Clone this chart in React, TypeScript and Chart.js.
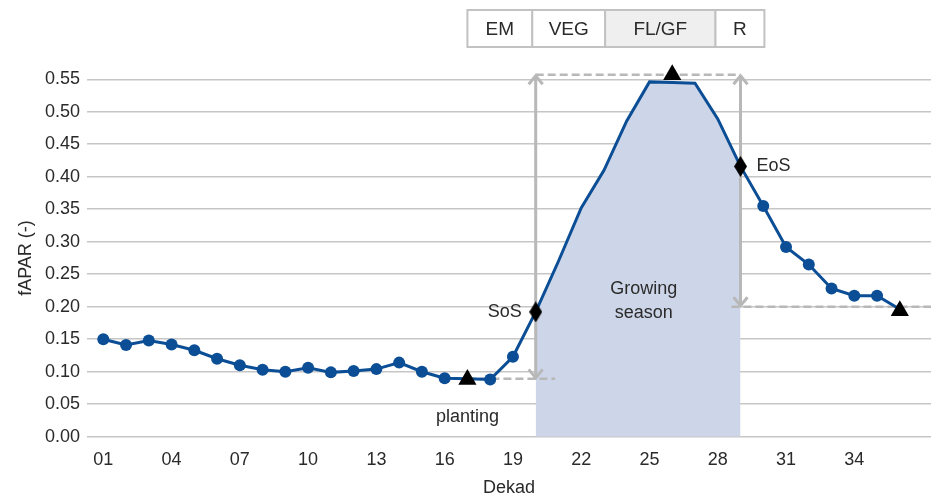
import React, { useEffect, useRef } from 'react';
import { Chart, registerables } from 'chart.js';

Chart.register(...registerables);

// ---- data ----
const dekads = [1, 2, 3, 4, 5, 6, 7, 8, 9, 10, 11, 12, 13, 14, 15, 16, 17, 18, 19, 20, 21, 22, 23, 24, 25, 26, 27, 28, 29, 30, 31, 32, 33, 34, 35, 36];
const faparValues = [
  0.150, 0.141, 0.148, 0.142, 0.133, 0.120, 0.110, 0.103, 0.100, 0.106,
  0.099, 0.101, 0.104, 0.114, 0.100, 0.090, 0.089, 0.088, 0.123, 0.192,
  0.270, 0.352, 0.410, 0.486, 0.546, 0.545, 0.544, 0.489, 0.416, 0.355,
  0.292, 0.265, 0.228, 0.217, 0.217, 0.196,
];
const xTickValues = [1, 4, 7, 10, 13, 16, 19, 22, 25, 28, 31, 34];
const xTickLabels = ['01', '04', '07', '10', '13', '16', '19', '22', '25', '28', '31', '34'];
const yTickValues = [0, 0.05, 0.1, 0.15, 0.2, 0.25, 0.3, 0.35, 0.4, 0.45, 0.5, 0.55];

const triangleDekads = [17, 26, 36];
const triangleValues = [0.088, 0.557, 0.194];
const diamondDekads = [20, 29];
const diamondValues = [0.192, 0.416];
const diamondLabels = ['SoS', 'EoS'];

const seasonStart = 20;
const seasonEnd = 29;
const plantingDekad = 17;
const plantingLevel = 0.089;
const peakLevel = 0.557;
const eosLevel = 0.2;
const plantingDashEnd = 20.85;
const eosDashStart = 28.6;

const stageLabels = ['EM', 'VEG', 'FL/GF', 'R'];
const stageEdges = [17, 19.85, 23.05, 27.9, 30.05];
const shadedStage = 'FL/GF';

const xMin = 0.284;
const xMax = 37.37;

// ---- styles ----
const FONT = '"Liberation Sans", Arial, Helvetica, sans-serif';
const TEXT = '#2a2a2a';
const BLUE = '#0b4e95';
const FILL = '#cdd6e8';
const GREY = '#b8b8b8';

function makeDiamond(): HTMLCanvasElement {
  const c = document.createElement('canvas');
  c.width = 13;
  c.height = 21;
  const g = c.getContext('2d')!;
  g.fillStyle = '#000';
  g.beginPath();
  g.moveTo(6.5, 0);
  g.lineTo(13, 10.5);
  g.lineTo(6.5, 21);
  g.lineTo(0, 10.5);
  g.closePath();
  g.fill();
  return c;
}

const overlayPlugin = {
  id: 'overlay',
  beforeDatasetDraw(chart: any, args: any) {
    if (args.index !== 1) return;
    const { ctx, chartArea } = chart;
    const xs = chart.scales.x;
    const ys = chart.scales.y;
    const X = (v: number) => xs.getPixelForValue(v);
    const Y = (v: number) => ys.getPixelForValue(v);
    ctx.save();
    ctx.strokeStyle = GREY;
    ctx.lineWidth = 2.5;
    ctx.setLineDash([8, 4]);
    const seg = (x0: number, y0: number, x1: number, y1: number) => {
      ctx.beginPath();
      ctx.moveTo(x0, y0);
      ctx.lineTo(x1, y1);
      ctx.stroke();
    };
    seg(X(plantingDekad), Y(plantingLevel), X(plantingDashEnd), Y(plantingLevel));
    seg(X(seasonStart), Y(peakLevel), X(seasonEnd), Y(peakLevel));
    seg(X(eosDashStart), Y(eosLevel), chartArea.right, Y(eosLevel));
    ctx.setLineDash([]);
    ctx.lineWidth = 3;
    const arrow = (x: number, yTop: number, yBot: number) => {
      const hw = 7;
      const hh = 9.5;
      seg(x, yTop + 1, x, yBot - 1);
      ctx.beginPath();
      ctx.moveTo(x - hw, yTop + hh);
      ctx.lineTo(x, yTop + 1);
      ctx.lineTo(x + hw, yTop + hh);
      ctx.stroke();
      ctx.beginPath();
      ctx.moveTo(x - hw, yBot - hh);
      ctx.lineTo(x, yBot - 1);
      ctx.lineTo(x + hw, yBot - hh);
      ctx.stroke();
    };
    arrow(X(seasonStart), Y(peakLevel), Y(plantingLevel));
    arrow(X(seasonEnd), Y(peakLevel), Y(eosLevel));
    ctx.restore();
  },
  afterDatasetsDraw(chart: any) {
    const { ctx } = chart;
    const xs = chart.scales.x;
    const ys = chart.scales.y;
    const X = (v: number) => xs.getPixelForValue(v);
    const Y = (v: number) => ys.getPixelForValue(v);
    ctx.save();
    ctx.font = `18px ${FONT}`;
    ctx.fillStyle = TEXT;
    ctx.textBaseline = 'middle';
    ctx.textAlign = 'center';
    ctx.fillText('planting', X(plantingDekad), Y(triangleValues[0]) + 38);
    ctx.fillText('Growing', X((seasonStart + seasonEnd) / 2 + 0.25), Y(0.227));
    ctx.fillText('season', X((seasonStart + seasonEnd) / 2 + 0.25), Y(0.227) + 24);
    ctx.textAlign = 'right';
    ctx.fillText(diamondLabels[0], X(diamondDekads[0]) - 14, Y(diamondValues[0]));
    ctx.textAlign = 'left';
    ctx.fillText(diamondLabels[1], X(diamondDekads[1]) + 16, Y(diamondValues[1]));
    ctx.restore();
  },
  afterDraw(chart: any) {
    const { ctx } = chart;
    const xs = chart.scales.x;
    const X = (v: number) => xs.getPixelForValue(v);
    const top = 10;
    const h = 37;
    ctx.save();
    ctx.lineWidth = 2;
    ctx.strokeStyle = '#c2c2c2';
    ctx.font = `19px ${FONT}`;
    ctx.textAlign = 'center';
    ctx.textBaseline = 'middle';
    stageLabels.forEach((lab, i) => {
      const x0 = X(stageEdges[i]);
      const x1 = X(stageEdges[i + 1]);
      ctx.fillStyle = lab === shadedStage ? '#efefef' : '#ffffff';
      ctx.fillRect(x0, top, x1 - x0, h);
      ctx.strokeRect(x0, top, x1 - x0, h);
      ctx.fillStyle = TEXT;
      ctx.fillText(lab, (x0 + x1) / 2, top + h / 2 + 1);
    });
    ctx.restore();
  },
};

export default function App() {
  const ref = useRef<HTMLCanvasElement | null>(null);

  useEffect(() => {
    if (!ref.current) return;
    const diamond = makeDiamond();
    const linePts = dekads.map((d, i) => ({ x: d, y: faparValues[i] }));
    const fillPts = dekads
      .map((d, i) => ({ x: d, y: faparValues[i] }))
      .filter((p) => p.x >= seasonStart && p.x <= seasonEnd);
    const radii = dekads.map((d) =>
      (d >= seasonStart && d <= seasonEnd) || triangleDekads.includes(d) ? 0 : 6
    );

    const chart = new Chart(ref.current, {
      type: 'line',
      data: {
        datasets: [
          {
            data: fillPts,
            fill: 'origin',
            backgroundColor: FILL,
            borderWidth: 0,
            pointRadius: 0,
            tension: 0,
            order: 4,
          },
          {
            data: linePts,
            borderColor: BLUE,
            borderWidth: 3,
            backgroundColor: BLUE,
            pointBackgroundColor: BLUE,
            pointBorderWidth: 0,
            pointRadius: radii,
            tension: 0,
            fill: false,
            clip: false,
            order: 3,
          },
          {
            data: triangleDekads.map((d, i) => ({ x: d, y: triangleValues[i] })),
            showLine: false,
            pointStyle: 'triangle',
            pointRadius: 10.5,
            pointBackgroundColor: '#000',
            pointBorderWidth: 0,
            borderWidth: 0,
            clip: false,
            order: 2,
          },
          {
            data: diamondDekads.map((d, i) => ({ x: d, y: diamondValues[i] })),
            showLine: false,
            pointStyle: diamond as any,
            pointRadius: 10,
            borderWidth: 0,
            clip: false,
            order: 1,
          },
        ] as any,
      },
      options: {
        animation: false,
        responsive: false,
        devicePixelRatio: 1,
        events: [],
        layout: { autoPadding: false, padding: { top: 79.3, right: 2, left: 0, bottom: 0 } },
        plugins: {
          legend: { display: false },
          tooltip: { enabled: false },
        },
        scales: {
          x: {
            type: 'linear',
            min: xMin,
            max: xMax,
            grid: { display: false },
            border: { display: false },
            afterBuildTicks: (scale: any) => {
              scale.ticks = xTickValues.map((v) => ({ value: v }));
            },
            afterFit: (scale: any) => {
              scale.height = 62.3;
            },
            ticks: {
              autoSkip: false,
              maxRotation: 0,
              padding: 5,
              color: TEXT,
              font: { family: FONT, size: 18 },
              callback: (v: any) => {
                const i = xTickValues.indexOf(Number(v));
                return i >= 0 ? xTickLabels[i] : '';
              },
            },
            title: {
              display: true,
              text: 'Dekad',
              color: TEXT,
              font: { family: FONT, size: 18 },
              padding: { top: 0, bottom: 0 },
            },
          },
          y: {
            type: 'linear',
            min: 0,
            max: 0.55,
            grid: { color: '#c6c6c6', lineWidth: 1.6, drawTicks: false },
            border: { display: false },
            afterBuildTicks: (scale: any) => {
              scale.ticks = yTickValues.map((v) => ({ value: v }));
            },
            afterFit: (scale: any) => {
              scale.width = 87;
            },
            ticks: {
              padding: 7,
              color: TEXT,
              font: { family: FONT, size: 18 },
              callback: (v: any) => Number(v).toFixed(2),
            },
            title: {
              display: true,
              text: 'fAPAR (-)',
              color: TEXT,
              font: { family: FONT, size: 18 },
              padding: { top: 15, bottom: 0 },
            },
          },
        },
      } as any,
      plugins: [overlayPlugin as any],
    });
    return () => chart.destroy();
  }, []);

  return (
    <div style={{ position: 'fixed', left: 0, top: 0, width: 933, height: 499, background: '#fff' }}>
      <canvas ref={ref} width={933} height={499} style={{ display: 'block' }} />
    </div>
  );
}
